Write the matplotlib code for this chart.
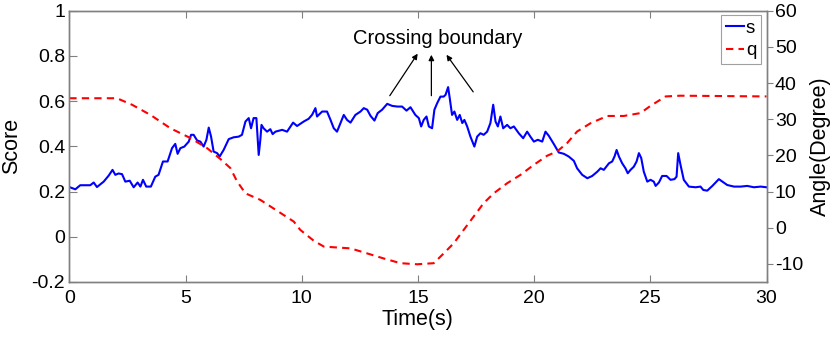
import matplotlib
matplotlib.use("Agg")
import matplotlib.pyplot as plt

plt.rcParams['font.family'] = ['Liberation Sans', 'DejaVu Sans']

# ---- data ----
s_time = [0.0, 0.26, 0.47, 0.9, 1.05, 1.19, 1.48, 1.69, 1.86, 1.98, 2.12, 2.27, 2.41, 2.6, 2.77, 2.94,
          3.06, 3.17, 3.31, 3.51, 3.70, 3.84, 4.03, 4.23, 4.42, 4.56, 4.66, 4.78, 4.95, 5.14, 5.24, 5.35,
          5.50, 5.64, 5.78, 5.90, 6.0, 6.1, 6.21, 6.36, 6.47, 6.64, 6.86, 7.07, 7.29, 7.43, 7.58, 7.72,
          7.82, 7.93, 8.05, 8.15, 8.22, 8.27, 8.36, 8.51, 8.65, 8.75, 8.87, 9.16, 9.37, 9.63, 9.80, 10.09,
          10.30, 10.45, 10.59, 10.66, 10.88, 11.09, 11.24, 11.38, 11.52, 11.67, 11.81, 11.95, 12.10, 12.31,
          12.53, 12.67, 12.82, 12.96, 13.13, 13.27, 13.46, 13.68, 13.89, 14.11, 14.32, 14.51, 14.68, 14.89,
          15.04, 15.14, 15.25, 15.37, 15.47, 15.61, 15.71, 15.83, 15.97, 16.11, 16.19, 16.30, 16.37, 16.47,
          16.57, 16.69, 16.80, 16.91, 17.0, 17.12, 17.26, 17.43, 17.55, 17.69, 17.83, 17.98, 18.12, 18.24,
          18.34, 18.44, 18.55, 18.67, 18.84, 18.98, 19.13, 19.34, 19.53, 19.70, 19.84, 19.99, 20.16, 20.35,
          20.49, 20.63, 20.85, 21.06, 21.28, 21.49, 21.71, 21.85, 22.07, 22.29, 22.50, 22.72, 22.86, 23.0,
          23.22, 23.36, 23.46, 23.55, 23.65, 23.79, 23.93, 24.03, 24.15, 24.29, 24.41, 24.51, 24.61, 24.72,
          24.87, 25.01, 25.15, 25.23, 25.37, 25.51, 25.70, 25.87, 26.04, 26.13, 26.20, 26.30, 26.44, 26.66,
          26.95, 27.16, 27.28, 27.45, 27.67, 27.81, 27.95, 28.10, 28.31, 28.60, 28.89, 29.17, 29.46, 29.75,
          30.0]
s_score = [0.22, 0.21, 0.228, 0.228, 0.24, 0.22, 0.244, 0.27, 0.296, 0.274, 0.28, 0.277, 0.244, 0.248,
           0.219, 0.24, 0.222, 0.252, 0.222, 0.222, 0.266, 0.274, 0.333, 0.333, 0.392, 0.411, 0.367, 0.392,
           0.399, 0.421, 0.451, 0.451, 0.426, 0.421, 0.399, 0.429, 0.483, 0.443, 0.377, 0.37, 0.355, 0.384,
           0.432, 0.44, 0.443, 0.451, 0.51, 0.525, 0.48, 0.525, 0.525, 0.362, 0.429, 0.495, 0.48, 0.465,
           0.476, 0.454, 0.465, 0.473, 0.465, 0.505, 0.49, 0.51, 0.522, 0.54, 0.569, 0.532, 0.554, 0.554,
           0.517, 0.48, 0.465, 0.503, 0.539, 0.517, 0.505, 0.539, 0.554, 0.569, 0.562, 0.535, 0.514, 0.547,
           0.562, 0.588, 0.579, 0.576, 0.576, 0.558, 0.573, 0.539, 0.525, 0.488, 0.517, 0.532, 0.488, 0.48,
           0.562, 0.591, 0.62, 0.62, 0.628, 0.662, 0.613, 0.539, 0.554, 0.517, 0.539, 0.503, 0.517, 0.488,
           0.443, 0.399, 0.443, 0.458, 0.451, 0.465, 0.503, 0.584, 0.51, 0.488, 0.532, 0.48, 0.495, 0.48,
           0.488, 0.458, 0.436, 0.465, 0.443, 0.421, 0.429, 0.421, 0.465, 0.447, 0.41, 0.373, 0.367, 0.355,
           0.336, 0.303, 0.274, 0.259, 0.269, 0.288, 0.303, 0.296, 0.325, 0.333, 0.355, 0.384, 0.355, 0.325,
           0.303, 0.281, 0.296, 0.31, 0.333, 0.37, 0.348, 0.288, 0.244, 0.252, 0.244, 0.225, 0.24, 0.269,
           0.269, 0.252, 0.255, 0.266, 0.37, 0.318, 0.252, 0.222, 0.219, 0.222, 0.207, 0.204, 0.225, 0.24,
           0.255, 0.244, 0.229, 0.222, 0.222, 0.225, 0.219, 0.222, 0.219]

q_time = [0.0, 2.05, 2.70, 3.49, 4.35, 5.21, 5.93, 6.50, 6.93, 7.22, 7.58, 8.22, 8.94, 9.66, 9.94, 10.52,
          10.95, 11.38, 12.10, 12.82, 13.53, 14.25, 14.97, 15.68, 16.11, 16.54, 16.97, 17.40, 17.83, 18.26,
          18.84, 19.41, 19.99, 20.56, 20.99, 21.42, 21.85, 22.43, 23.15, 23.86, 24.58, 25.01, 25.66, 26.30,
          30.0]
q_angle = [35.8, 35.8, 34.0, 31.2, 27.5, 24.8, 22.0, 19.0, 16.5, 12.8, 9.5, 7.7, 4.7, 1.7, -0.6, -3.6,
           -5.2, -5.4, -5.7, -7.1, -8.5, -9.8, -10.1, -9.8, -7.1, -4.3, -0.6, 3.1, 6.8, 9.5,
           12.3, 14.6, 17.4, 19.9, 21.1, 23.4, 26.6, 28.9, 30.9, 30.9, 31.7, 33.7, 36.3, 36.5,
           36.3]

x_ticks = [0, 5, 10, 15, 20, 25, 30]
left_ticks = [-0.2, 0, 0.2, 0.4, 0.6, 0.8, 1]
left_labels = ['-0.2', '0', '0.2', '0.4', '0.6', '0.8', '1']
right_ticks = [-10, 0, 10, 20, 30, 40, 50, 60]

annot_text = "Crossing boundary"
arrow_tails = [(13.79, 0.624), (15.58, 0.624), (17.38, 0.641)]
arrow_heads = [(14.99, 0.81), (15.58, 0.805), (16.23, 0.805)]

# ---- figure ----
W, H = 830, 342
fig = plt.figure(figsize=(W / 100, H / 100), dpi=100)
ax = fig.add_axes([69.3 / W, 1 - 282 / H, (766.5 - 69.3) / W, (282 - 10.7) / H])
ax2 = ax.twinx()

spine_c = '#808080'
tick_fs = 14
lab_fs = 15.5

l1, = ax.plot(s_time, s_score, color='#0000ff', lw=1.5, label='s')
l2, = ax2.plot(q_time, q_angle, color='#ff0000', lw=1.5, ls=(0, (3.5, 2.5)), label='q')

ax.set_xlim(0, 30)
ax.set_ylim(-0.2, 1)
ax2.set_ylim(-15, 60)

ax.set_xticks(x_ticks)
ax.set_xticklabels([str(v) for v in x_ticks], fontsize=tick_fs)
ax.set_yticks(left_ticks)
ax.set_yticklabels(left_labels, fontsize=tick_fs)
ax2.set_yticks(right_ticks)
ax2.set_yticklabels([str(v) for v in right_ticks], fontsize=tick_fs)

ax.tick_params(axis='x', direction='in', top=True, length=5, color=spine_c, pad=6)
ax.tick_params(axis='y', direction='in', length=6, color=spine_c, right=False, pad=3)
ax2.tick_params(axis='y', direction='out', length=4, color=spine_c, pad=2)

for a in (ax, ax2):
    for sp in a.spines.values():
        sp.set_color(spine_c)
        sp.set_linewidth(1.0)

ax.set_xlabel('Time(s)', fontsize=lab_fs, labelpad=1)
ax.set_ylabel('Score', fontsize=lab_fs, labelpad=7)
ax2.set_ylabel('Angle(Degree)', fontsize=lab_fs, labelpad=5)

for tail, head in zip(arrow_tails, arrow_heads):
    ax.annotate('', xy=head, xytext=tail,
                arrowprops=dict(arrowstyle='-|>', lw=0.9, color='black', mutation_scale=8,
                                shrinkA=0, shrinkB=0))
ax.text(15.83, 0.875, annot_text, ha='center', va='center', fontsize=14.5)

leg = ax2.legend([l1, l2], ['s', 'q'], loc='upper right', bbox_to_anchor=(0.992, 0.985),
                 fontsize=13.5, handlelength=0.95, handletextpad=0.1, borderpad=0.25,
                 labelspacing=0.3, borderaxespad=0, fancybox=False, framealpha=1)
leg.get_frame().set_edgecolor('#a0a0a0')
leg.get_frame().set_linewidth(0.8)

fig.savefig('out.png', dpi=100)
